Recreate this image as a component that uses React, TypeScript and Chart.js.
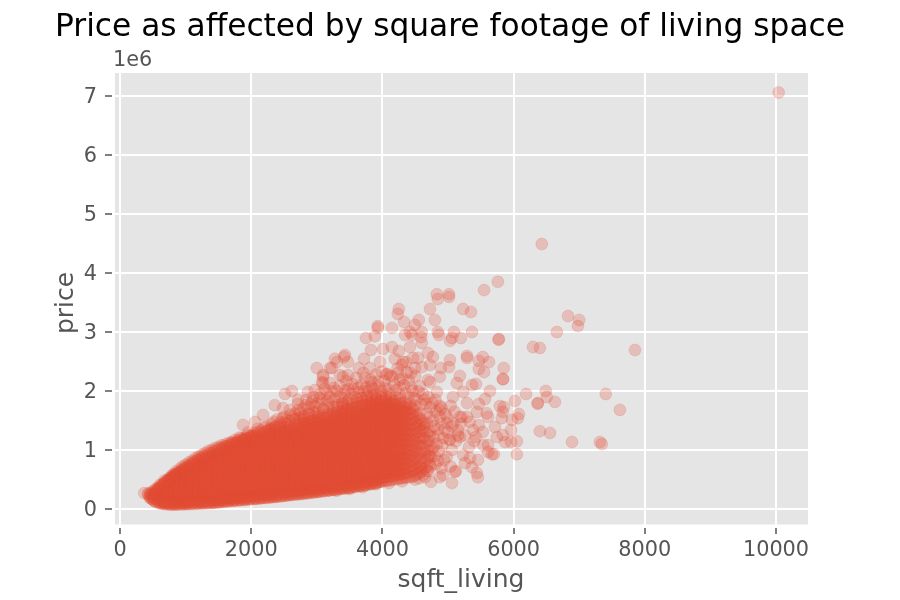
import React, { useEffect, useRef } from "react";
import { Chart, registerables } from "chart.js";

Chart.register(...registerables);

const chartTitle = "Price as affected by square footage of living space";
const xLabel = "sqft_living";
const yLabel = "price";
const offsetLabel = "1e6";
const xTickValues = [0, 2000, 4000, 6000, 8000, 10000];
const yTickValues = [0, 1000000, 2000000, 3000000, 4000000, 5000000, 6000000, 7000000];
const yTickLabels = ["0", "1", "2", "3", "4", "5", "6", "7"];

// Individually readable points (sqft, price in thousands).
const sparseSqft = [370,10040,6430,5760,5550,4830,5015,4845,5015,4725,5230,5350,4250,4235,4555,4330,4800,4495,3930,3930,4145,3750,3885,4420,4345,4600,4590,4450,4600,4845,4860,5090,5365,5195,5030,5060,5775,5770,6830,7000,6980,6660,6295,6400,7850,3825,4010,4145,4250,4420,4695,4770,5290,5290,5530,5625,5470,5470,5550,5850,5835,5840,5030,5015,4890,4725,4600,4540,3275,3415,3720,3960,4190,4465,4360,3475,3640,3810,4070,4060,4300,4375,4235,4435,4695,4725,4875,5180,5135,5365,5425,5230,5640,5075,4830,6190,6490,6505,6370,6365,6630,7405,7620,6020,5790,5850,5565,5470,5290,5835,6080,6065,5975,5820,5590,5440,5210,4875,4985,5715,6400,6555,6890,7315,7345,5960,5835,6050,5960,5870,5745,5610,5610,5610,5670,5700,6050,5455,5320,5380,5530,5425,5335,5230,5260,5365,5440,5455,5120,5060,4940,4920,5180,5150,5290,5030,5180,5060,4740,4875,5105,3000,3430,2515,2620,2865,2360,2180,1875,3095,3200,3080,3200,3350,3475,2970,2715,2485,2060,3305,3230,3095,3095,3400,3735,3840,4265,4495,4315];
const sparsePrice = [270,7060,4490,3850,3710,3640,3640,3560,3595,3390,3390,3340,3390,3305,3205,3170,3205,3120,3100,3070,3070,2900,2930,3000,2950,3000,2915,2950,2815,3000,2950,3000,3000,2900,2850,2900,2880,2870,3270,3205,3100,3000,2745,2730,2695,2695,2710,2745,2680,2745,2645,2575,2595,2560,2575,2490,2510,2375,2320,2390,2205,2200,2525,2405,2390,2440,2405,2560,2545,2575,2545,2490,2545,2560,2490,2490,2390,2390,2290,2280,2440,2320,2305,2305,2185,2150,2240,2255,2135,2100,2120,1985,2000,1900,1985,1950,2000,1900,1795,1785,1815,1950,1680,1830,1745,1730,1865,1780,1795,1645,1610,1540,1510,1540,1625,1645,1560,1680,1460,1390,1320,1290,1135,1135,1100,1340,1255,1150,1135,1135,1220,1560,1085,965,930,930,930,830,1050,1340,1305,1220,865,915,780,710,610,540,645,440,830,575,1560,1340,1560,1170,1220,1000,460,540,630,2390,2610,1950,2000,1985,1760,1595,1425,2270,2390,2150,2135,2270,2270,2015,1850,1710,1475,2490,2390,2240,2135,2240,2220,2150,2185,2390,2490];

// Thinning fringe around the solid mass, estimated by eye.
const fringeSqft = [1700,1820,1900,1950,2050,2100,2180,2240,2300,2340,2420,2470,2550,2600,2680,2720,2780,2830,2880,2930,2990,3040,3100,3150,3190,3260,3300,3340,3390,3440,3490,3540,3590,3630,3680,3720,3770,3830,3880,3930,3980,4040,4100,4150,4210,4270,4330,4390,4440,4490,4550,4590,4640,4680,4730,4770,4810,4840,4880,4900,4930,4960,5000,5040,5080,5120,5200,5260,5330,5400,5470,5540,4780,4740,4810,4860,4900,4980,5040,4700,4650,4560];
const fringePrice = [1120,1210,1180,1300,1240,1360,1290,1400,1350,1480,1400,1530,1450,1600,1520,1680,1560,1760,1620,1820,1640,1880,1700,1950,1780,2050,1720,1900,1800,2010,1850,2120,1900,2050,1880,2000,1920,2080,1940,2160,2000,2060,1950,2240,2020,1930,2100,1900,2060,1880,1990,1780,1850,1620,1720,1500,1850,1350,1560,1720,1200,1610,1300,1750,1450,1150,1450,1250,1480,1150,1420,1080,1050,880,760,980,690,880,720,640,540,520];
const fringe2Sqft = [2150,2200,2260,2310,2360,2400,2450,2500,2540,2590,2630,2670,2710,2750,2790,2840,2870,2910,2950,2980,3020,3050,3080,3120,3160,3200,3230,3270,3310,3350,3380,3420,3450,3480,3520,3560,3600,3640,3680,3710,3750,3790,3820,3860,3900,3950,3990,4030,4080,4120,4180,4230,4260,4310,4360,4400,4460,4500,4520,4570,4620,4660,4700,4720,4760,4790,4820,4850,4870,4890,4910,4950,4990,5020,5060,5100,5150,4600,4640,4680,4710,4720,4750,4780,4800,4830,4850,4700,4730,4680,4620,4590,3300,3500,3700,3900,4100,4300,4500];
const fringe2Price = [1330,1380,1330,1440,1390,1520,1470,1560,1510,1680,1570,1620,1780,1640,1700,1850,1720,1780,1900,1740,1800,1950,1850,2040,1830,1900,1990,1850,2000,2090,1880,1950,2170,2040,1960,2030,2220,1980,2100,2310,2060,2000,2190,2040,2280,2080,2330,2170,2040,2260,2110,2380,2060,2210,1960,2180,2000,2250,1860,2080,1950,1780,1900,1560,1800,1400,1650,1250,1750,1450,1080,1350,1550,1180,1400,1650,1250,1500,1380,1450,1150,1320,1000,1220,900,1100,820,900,720,650,580,700,310,340,370,420,440,470,500];

// Estimated points along the mass's sharp lower, left and upper-left edges.
const edgeSqft = [600,650,700,760,820,880,950,1020,1100,1180,1260,1340,1420,1500,1580,1660,1740,1820,1900,1980,2060,2140,2220,2300,2380,2460,2540,2620,2700,2780,2860,2940,3020,3100,3180,3260,3340,3420,3500,3580,3660,3740,3820,3900,3980,625,675,730,790,850,915,985,1060,1140,1220,1300,1380,1460,1540,1620,1700,1780,1860,1940,2020,2100,2180,2260,2340,2420,2500,2580,2660,2740,2820,2900,2980,3060,3140,3220,3300,3380,3460,3540,3620,3700,3780,3860,3940,450,470,490,520,540,560,590,620,650,680,710,740,770,800,830,860,800,850,900,950,1000,1050,1100,1150,1200,1250,1300,1350,1400,1450,1500,1550,1600,1650,1700,1750,1800,1850,1900,1950,2000,2050,2100,820,870,920,970,1020,1070,1120,1170,1220,1270,1320,1370,1420,1470,1520,1570,1620,1670,1720,1770,1820,1870,1920,1970,2020];
const edgePrice = [105,92,84,78,76,78,80,84,88,92,96,100,106,114,124,134,142,150,158,166,174,182,190,198,208,218,230,240,250,258,268,280,292,304,316,326,338,350,362,376,390,404,422,444,464,128,112,104,100,102,104,108,114,118,124,128,134,140,148,156,166,174,182,190,198,206,214,222,232,242,254,264,274,282,292,304,316,328,340,350,362,374,386,400,414,428,446,468,488,205,250,170,140,290,320,350,380,405,440,465,490,515,540,565,590,580,630,670,720,750,790,820,860,890,920,950,985,1000,1035,1050,1080,1090,1120,1130,1170,1170,1200,1210,1250,1250,1290,1300,550,590,640,680,720,760,790,830,860,900,920,950,970,1000,1020,1050,1060,1090,1100,1130,1140,1170,1180,1210,1220];

// The solid mass cannot be read point by point: these columns are a hand estimate of its extent and density.
const massSqft = [430,500,570,640,720,790,860,940,1010,1080,1160,1230,1300,1380,1450,1520,1600,1670,1740,1820,1890,1960,2040,2110,2180,2260,2330,2400,2480,2550,2620,2700,2770,2840,2920,2990,3060,3140,3210,3280,3360,3430,3500,3580,3650,3720,3800,3870,3940,4020,4090,4160,4240,4310,4380,4460,4530,4600,4680];
const massPrices = [
[245,268],
[160,205,250,298],
[120,165,205,262,310,355],
[95,140,186,235,290,332,385,425],
[88,130,178,222,275,318,360,412,455,490],
[82,125,172,228,270,325,368,415,472,515,548],
[80,128,180,225,280,330,375,430,478,520,565,595],
[84,132,175,236,282,328,385,432,480,535,575,620,648],
[86,134,190,240,288,345,392,440,498,545,590,640,680],
[90,142,186,250,295,340,402,450,495,556,600,650,695,735],
[94,150,198,245,310,356,405,462,510,565,612,668,712,770],
[98,152,205,262,308,370,415,478,525,570,632,680,730,785,815],
[102,158,212,260,325,372,428,480,540,585,648,695,750,800,862],
[108,160,222,268,330,378,440,490,548,600,655,702,762,812,868,905],
[112,170,226,278,340,385,445,505,552,615,660,722,770,825,880,925],
[122,172,235,285,345,402,450,512,566,620,675,728,785,840,890,955],
[130,185,240,298,350,410,468,520,578,630,690,738,800,850,910,962,992],
[138,190,252,302,365,415,474,535,585,645,695,755,810,868,920,975,1022],
[144,200,255,316,370,430,482,540,600,652,712,765,825,875,935,985,1048],
[152,208,268,322,382,435,498,552,608,668,720,780,832,892,945,1002,1062,1085],
[158,218,272,335,388,450,505,562,622,675,735,790,848,900,960,1015,1072,1108],
[166,225,282,340,402,458,515,575,630,690,745,802,860,915,972,1028,1088,1140],
[174,232,290,352,408,470,525,582,645,698,760,815,872,930,985,1042,1100,1160],
[180,240,300,358,420,476,538,595,650,712,768,825,885,940,1000,1055,1115,1180],
[188,250,305,370,428,488,545,605,665,720,780,838,895,955,1012,1070,1128,1190,1215],
[196,255,318,375,438,495,558,615,672,732,790,850,905,968,1025,1082,1142,1200,1245],
[204,265,325,388,445,508,565,625,685,742,802,858,920,978,1038,1095,1155,1215,1272],
[212,272,335,392,455,515,578,632,695,752,812,872,930,990,1048,1108,1168,1228,1298],
[222,284,342,405,462,528,585,645,705,765,822,885,940,1002,1060,1122,1180,1240,1302,1328],
[232,292,355,412,475,535,598,652,718,772,835,892,955,1012,1075,1132,1195,1252,1315,1362],
[242,305,362,425,482,548,605,668,725,788,845,908,965,1028,1085,1148,1205,1268,1325,1388],
[250,312,375,432,498,555,618,678,738,798,858,918,980,1038,1100,1160,1220,1282,1342,1420],
[258,322,380,445,505,568,628,688,750,808,872,930,992,1052,1112,1175,1232,1295,1358,1440],
[268,330,392,452,518,575,640,698,762,822,882,945,1002,1068,1125,1188,1248,1308,1372,1432,1462],
[278,342,402,465,525,590,648,712,772,835,895,955,1018,1078,1140,1200,1262,1322,1385,1445,1495],
[288,350,415,472,538,598,662,720,785,845,908,968,1030,1092,1152,1215,1275,1338,1398,1460,1518],
[298,362,422,488,548,610,672,735,795,858,918,982,1042,1105,1165,1228,1288,1352,1412,1475,1545],
[308,370,435,495,560,620,685,745,808,870,932,992,1055,1118,1178,1242,1302,1365,1428,1490,1570],
[318,382,442,508,568,632,695,758,820,882,945,1005,1070,1130,1192,1255,1318,1380,1442,1505,1592],
[330,392,455,518,580,645,705,770,830,895,955,1020,1082,1145,1205,1270,1330,1395,1455,1520,1582,1622],
[342,405,468,530,592,655,720,782,845,905,970,1032,1095,1158,1220,1282,1345,1408,1470,1532,1595,1655],
[352,418,478,542,605,668,730,795,855,920,982,1045,1108,1170,1235,1295,1360,1422,1485,1545,1610,1678],
[362,428,490,555,615,680,742,805,870,930,995,1058,1120,1185,1248,1310,1372,1435,1498,1560,1622,1700],
[378,440,505,568,630,692,755,820,882,945,1008,1070,1135,1198,1260,1325,1388,1450,1512,1575,1640,1725],
[390,455,515,580,642,705,770,832,895,958,1020,1085,1148,1210,1275,1338,1400,1462,1528,1590,1652,1742],
[402,465,530,592,655,718,782,845,908,970,1035,1098,1160,1225,1288,1350,1415,1478,1540,1602,1668,1765],
[420,482,545,608,672,735,798,860,925,988,1050,1115,1178,1240,1305,1368,1430,1495,1558,1620,1685,1748,1800],
[432,495,558,622,685,748,812,875,938,1002,1065,1128,1192,1255,1318,1382,1445,1508,1572,1635,1698,1762,1825],
[455,518,582,645,708,772,835,898,962,1025,1088,1152,1215,1278,1342,1405,1468,1532,1595,1658,1722,1785,1845],
[475,538,602,665,728,792,855,918,982,1045,1108,1172,1235,1298,1362,1425,1488,1552,1615,1678,1742,1805,1860],
[485,548,612,675,738,802,865,928,992,1055,1118,1182,1245,1308,1372,1435,1498,1562,1625,1688,1752,1815],
[498,562,625,688,752,815,878,942,1005,1068,1132,1195,1258,1322,1385,1448,1512,1575,1638,1702,1765,1820],
[512,580,645,705,772,835,895,960,1022,1088,1150,1212,1278,1340,1402,1468,1530,1592,1658,1720,1785],
[525,598,672,742,812,885,955,1025,1098,1168,1238,1310,1380,1452,1522,1592,1665,1738],
[535,612,690,765,842,918,995,1072,1148,1225,1302,1378,1455,1532,1608,1685,1758],
[548,640,725,815,902,992,1080,1168,1258,1345,1432,1522,1610,1700],
[590,690,790,892,992,1092,1192,1292,1392,1492,1592],
[640,752,865,978,1090,1205,1318,1430],
[720,860,1005,1148,1290],
];

// A second hand-estimated pass over the same mass, between the first set's columns.
const mass2Sqft = [465,535,605,680,755,825,900,975,1045,1120,1195,1265,1340,1415,1485,1560,1635,1705,1780,1855,1925,2000,2075,2145,2220,2295,2365,2440,2515,2585,2660,2735,2805,2880,2955,3025,3100,3175,3245,3320,3395,3465,3540,3615,3685,3760,3835,3905,3980,4055,4125,4200,4275,4345,4420,4495,4565,4640,4720];
const mass2Prices = [
[180,225,272],
[125,178,228,285,332],
[98,148,195,250,300,352,405],
[84,118,165,208,262,305,352,400,445,482],
[78,110,152,200,252,298,345,392,442,495,530],
[76,105,155,205,255,302,352,402,452,498,548,585],
[80,108,155,205,258,305,358,408,458,505,555,600,628],
[82,112,160,212,262,315,365,418,465,518,565,615,662,695],
[84,118,165,215,268,318,372,422,475,525,578,625,675,725],
[88,122,172,222,278,328,382,432,488,538,590,642,695,745,785],
[92,128,178,232,282,338,390,445,498,552,605,658,710,762,808,835],
[96,132,185,238,292,345,402,455,510,562,618,670,725,778,830,870],
[100,138,192,245,300,355,412,465,520,575,630,685,740,792,848,895],
[106,145,200,255,310,365,420,478,532,588,642,698,752,808,862,915,945],
[112,152,208,265,318,375,432,488,545,600,655,712,768,825,878,932,980],
[122,162,218,272,330,385,442,498,555,612,668,725,782,838,895,950,1005,1030],
[130,172,228,285,342,398,455,512,568,625,682,738,795,852,908,965,1022,1062],
[138,182,238,295,352,408,465,522,580,636,692,750,806,862,920,976,1032,1085],
[145,190,248,305,362,420,478,535,592,650,708,765,822,880,938,995,1052,1108,1128],
[152,200,258,315,372,430,488,545,602,660,718,775,832,890,948,1005,1062,1120,1162],
[160,210,268,325,385,442,500,558,615,672,730,790,848,905,962,1020,1078,1135,1195],
[168,218,278,335,395,452,510,568,628,685,745,802,860,920,978,1035,1095,1152,1210,1235],
[175,228,288,345,405,465,522,580,640,698,758,815,875,932,992,1050,1110,1168,1228,1262],
[182,238,298,358,415,475,535,595,652,712,770,830,888,948,1008,1065,1125,1185,1242,1292],
[190,248,308,368,428,488,545,605,665,725,785,842,902,962,1020,1080,1140,1200,1258,1318],
[198,258,318,378,438,496,558,618,676,738,798,856,918,978,1036,1098,1158,1216,1278,1338,1365],
[206,268,328,388,448,508,568,630,690,750,810,870,930,990,1050,1110,1170,1230,1290,1350,1395],
[216,278,338,400,460,520,582,642,702,762,824,884,944,1004,1066,1126,1186,1246,1308,1368,1430],
[228,288,350,410,472,534,594,654,716,776,838,898,958,1020,1080,1140,1202,1262,1322,1384,1462],
[238,300,360,422,484,546,606,668,728,790,852,912,974,1034,1096,1158,1218,1280,1340,1402,1490],
[246,310,372,434,496,558,620,680,742,804,866,928,990,1050,1112,1174,1236,1298,1358,1420,1518],
[254,320,382,446,508,570,632,694,756,818,880,942,1004,1066,1128,1190,1252,1314,1376,1438,1500,1548],
[264,330,392,456,518,580,644,706,768,830,894,956,1018,1080,1144,1206,1268,1330,1394,1456,1518,1578],
[274,340,404,468,530,594,656,720,782,846,908,972,1034,1098,1160,1224,1286,1350,1412,1476,1538,1605],
[284,350,414,478,542,606,670,732,796,860,924,988,1050,1114,1178,1242,1306,1368,1432,1496,1560,1632],
[294,360,424,490,554,618,682,746,810,874,938,1002,1066,1130,1194,1258,1322,1386,1450,1514,1578,1658],
[304,370,436,500,566,630,694,760,824,888,952,1018,1082,1146,1210,1274,1340,1404,1468,1532,1596,1685],
[314,380,446,512,576,642,706,772,836,902,966,1032,1096,1162,1226,1292,1356,1422,1486,1552,1616,1712],
[326,392,458,524,588,654,720,784,850,916,980,1046,1112,1178,1242,1308,1374,1438,1504,1570,1634,1735],
[336,404,470,536,602,668,732,798,864,930,996,1062,1126,1192,1258,1324,1390,1456,1520,1586,1652,1760],
[348,416,482,548,614,680,746,812,878,944,1010,1076,1142,1208,1274,1340,1406,1472,1538,1604,1670,1736,1785],
[358,426,494,560,626,692,758,824,890,958,1024,1090,1156,1222,1288,1354,1420,1488,1554,1620,1686,1752,1808],
[370,438,504,572,638,704,772,838,904,972,1038,1104,1170,1238,1304,1370,1438,1504,1570,1636,1704,1770,1832],
[384,452,518,586,652,720,786,854,920,988,1054,1122,1188,1256,1322,1390,1456,1524,1590,1658,1724,1792,1855],
[396,464,532,598,666,734,800,868,936,1002,1070,1138,1204,1272,1340,1406,1474,1542,1608,1676,1744,1810,1878],
[412,480,548,616,682,750,818,886,952,1020,1088,1156,1222,1290,1358,1426,1492,1560,1628,1696,1762,1830,1900],
[428,496,564,632,700,768,836,904,972,1040,1108,1176,1244,1312,1380,1448,1516,1584,1652,1720,1788,1856,1925],
[444,512,580,648,716,784,852,920,988,1056,1124,1192,1260,1328,1396,1464,1532,1600,1668,1736,1804,1872,1945],
[465,532,600,668,736,804,872,940,1008,1076,1144,1212,1280,1348,1416,1484,1552,1620,1688,1756,1824,1892,1960],
[480,548,616,684,752,820,888,956,1024,1092,1160,1228,1296,1364,1432,1500,1568,1636,1704,1772,1840,1908],
[492,560,628,696,764,832,900,968,1036,1104,1172,1240,1308,1376,1444,1512,1580,1648,1716,1784,1852,1918],
[505,575,645,715,785,855,925,995,1065,1135,1205,1275,1345,1415,1485,1555,1625,1695,1765,1835,1900],
[518,592,668,742,818,892,968,1042,1118,1192,1268,1342,1418,1492,1568,1642,1718,1792,1860],
[530,610,690,770,850,930,1010,1090,1170,1250,1330,1410,1490,1570,1650,1730,1810],
[542,632,722,812,902,992,1082,1172,1262,1352,1442,1532,1622,1712,1790],
[565,665,765,865,965,1065,1165,1265,1365,1465,1565,1665,1745],
[610,725,840,955,1070,1185,1300,1415,1530,1620],
[680,810,940,1070,1200,1330,1450],
[760,920,1080,1240],
];

const buildPoints = () => {
  const pts: { x: number; y: number }[] = [];
  massSqft.forEach((sq, i) => massPrices[i].forEach((p) => pts.push({ x: sq, y: p * 1000 })));
  mass2Sqft.forEach((sq, i) => mass2Prices[i].forEach((p) => pts.push({ x: sq, y: p * 1000 })));
  edgeSqft.forEach((sq, i) => pts.push({ x: sq, y: edgePrice[i] * 1000 }));
  fringeSqft.forEach((sq, i) => pts.push({ x: sq, y: fringePrice[i] * 1000 }));
  fringe2Sqft.forEach((sq, i) => pts.push({ x: sq, y: fringe2Price[i] * 1000 }));
  sparseSqft.forEach((sq, i) => pts.push({ x: sq, y: sparsePrice[i] * 1000 }));
  return pts;
};

const FONT = "'DejaVu Sans'";
const INK = "#555555";

export default function App() {
  const ref = useRef<HTMLCanvasElement>(null);
  useEffect(() => {
    document.body.style.margin = "0";
    const backdrop = {
      id: "backdrop",
      beforeDraw(chart: any) {
        const { ctx } = chart;
        ctx.save();
        ctx.fillStyle = "#E5E5E5";
        ctx.fillRect(114, 73, 694, 451.5);
        ctx.restore();
      },
      afterDraw(chart: any) {
        const { ctx } = chart;
        ctx.save();
        ctx.fillStyle = INK;
        ctx.font = `20.8px ${FONT}`;
        ctx.textAlign = "left";
        ctx.textBaseline = "middle";
        ctx.fillText(offsetLabel, 113, 61);
        ctx.fillStyle = "#000000";
        ctx.font = `31.25px ${FONT}`;
        ctx.textAlign = "center";
        ctx.fillText(chartTitle, 450, 28);
        ctx.fillStyle = INK;
        ctx.font = `25px ${FONT}`;
        ctx.translate(66, 303);
        ctx.rotate(-Math.PI / 2);
        ctx.fillText(yLabel, 0, 0);
        ctx.restore();
      },
    };
    const chart = new Chart(ref.current!, {
      type: "scatter",
      data: {
        datasets: [
          {
            data: buildPoints(),
            pointRadius: 6,
            pointBorderWidth: 0.8,
            backgroundColor: "rgba(226,74,51,0.25)",
            borderColor: "rgba(226,74,51,0.2)",
          },
        ],
      },
      options: {
        responsive: false,
        animation: false,
        layout: { padding: { left: 0, right: 91, top: 72, bottom: 0 } },
        plugins: {
          legend: { display: false },
          tooltip: { enabled: false },
        },
        scales: {
          x: {
            type: "linear",
            min: -107,
            max: 10503,
            afterFit: (s: any) => { s.height = 74; },
            afterBuildTicks: (s: any) => { s.ticks = xTickValues.map((value) => ({ value })); },
            border: { display: true, color: "#FFFFFF", width: 3 },
            grid: { color: "#FFFFFF", lineWidth: 2, tickColor: INK, tickLength: 8, tickWidth: 1.5 },
            ticks: { color: INK, font: { family: FONT, size: 20.8 }, padding: 4, maxRotation: 0, autoSkip: false, callback: (v: any) => String(v) },
            title: { display: true, text: xLabel, color: INK, font: { family: FONT, size: 25 }, padding: 5 },
          },
          y: {
            type: "linear",
            min: -288000,
            max: 7407000,
            afterFit: (s: any) => { s.width = 113; },
            afterBuildTicks: (s: any) => { s.ticks = yTickValues.map((value) => ({ value })); },
            border: { display: true, color: "#FFFFFF", width: 3 },
            grid: { color: "#FFFFFF", lineWidth: 2, tickColor: INK, tickLength: 8, tickWidth: 1.5 },
            ticks: {
              color: INK,
              font: { family: FONT, size: 20.8 },
              padding: 8,
              labelOffset: 2,
              autoSkip: false,
              callback: (v: any) => yTickLabels[yTickValues.indexOf(Number(v))],
            },
            title: { display: false },
          },
        },
      },
      plugins: [backdrop],
    } as any);
    return () => chart.destroy();
  }, []);
  return (
    <div style={{ width: 900, height: 600 }}>
      <canvas ref={ref} width={900} height={600} style={{ display: "block" }} />
    </div>
  );
}
